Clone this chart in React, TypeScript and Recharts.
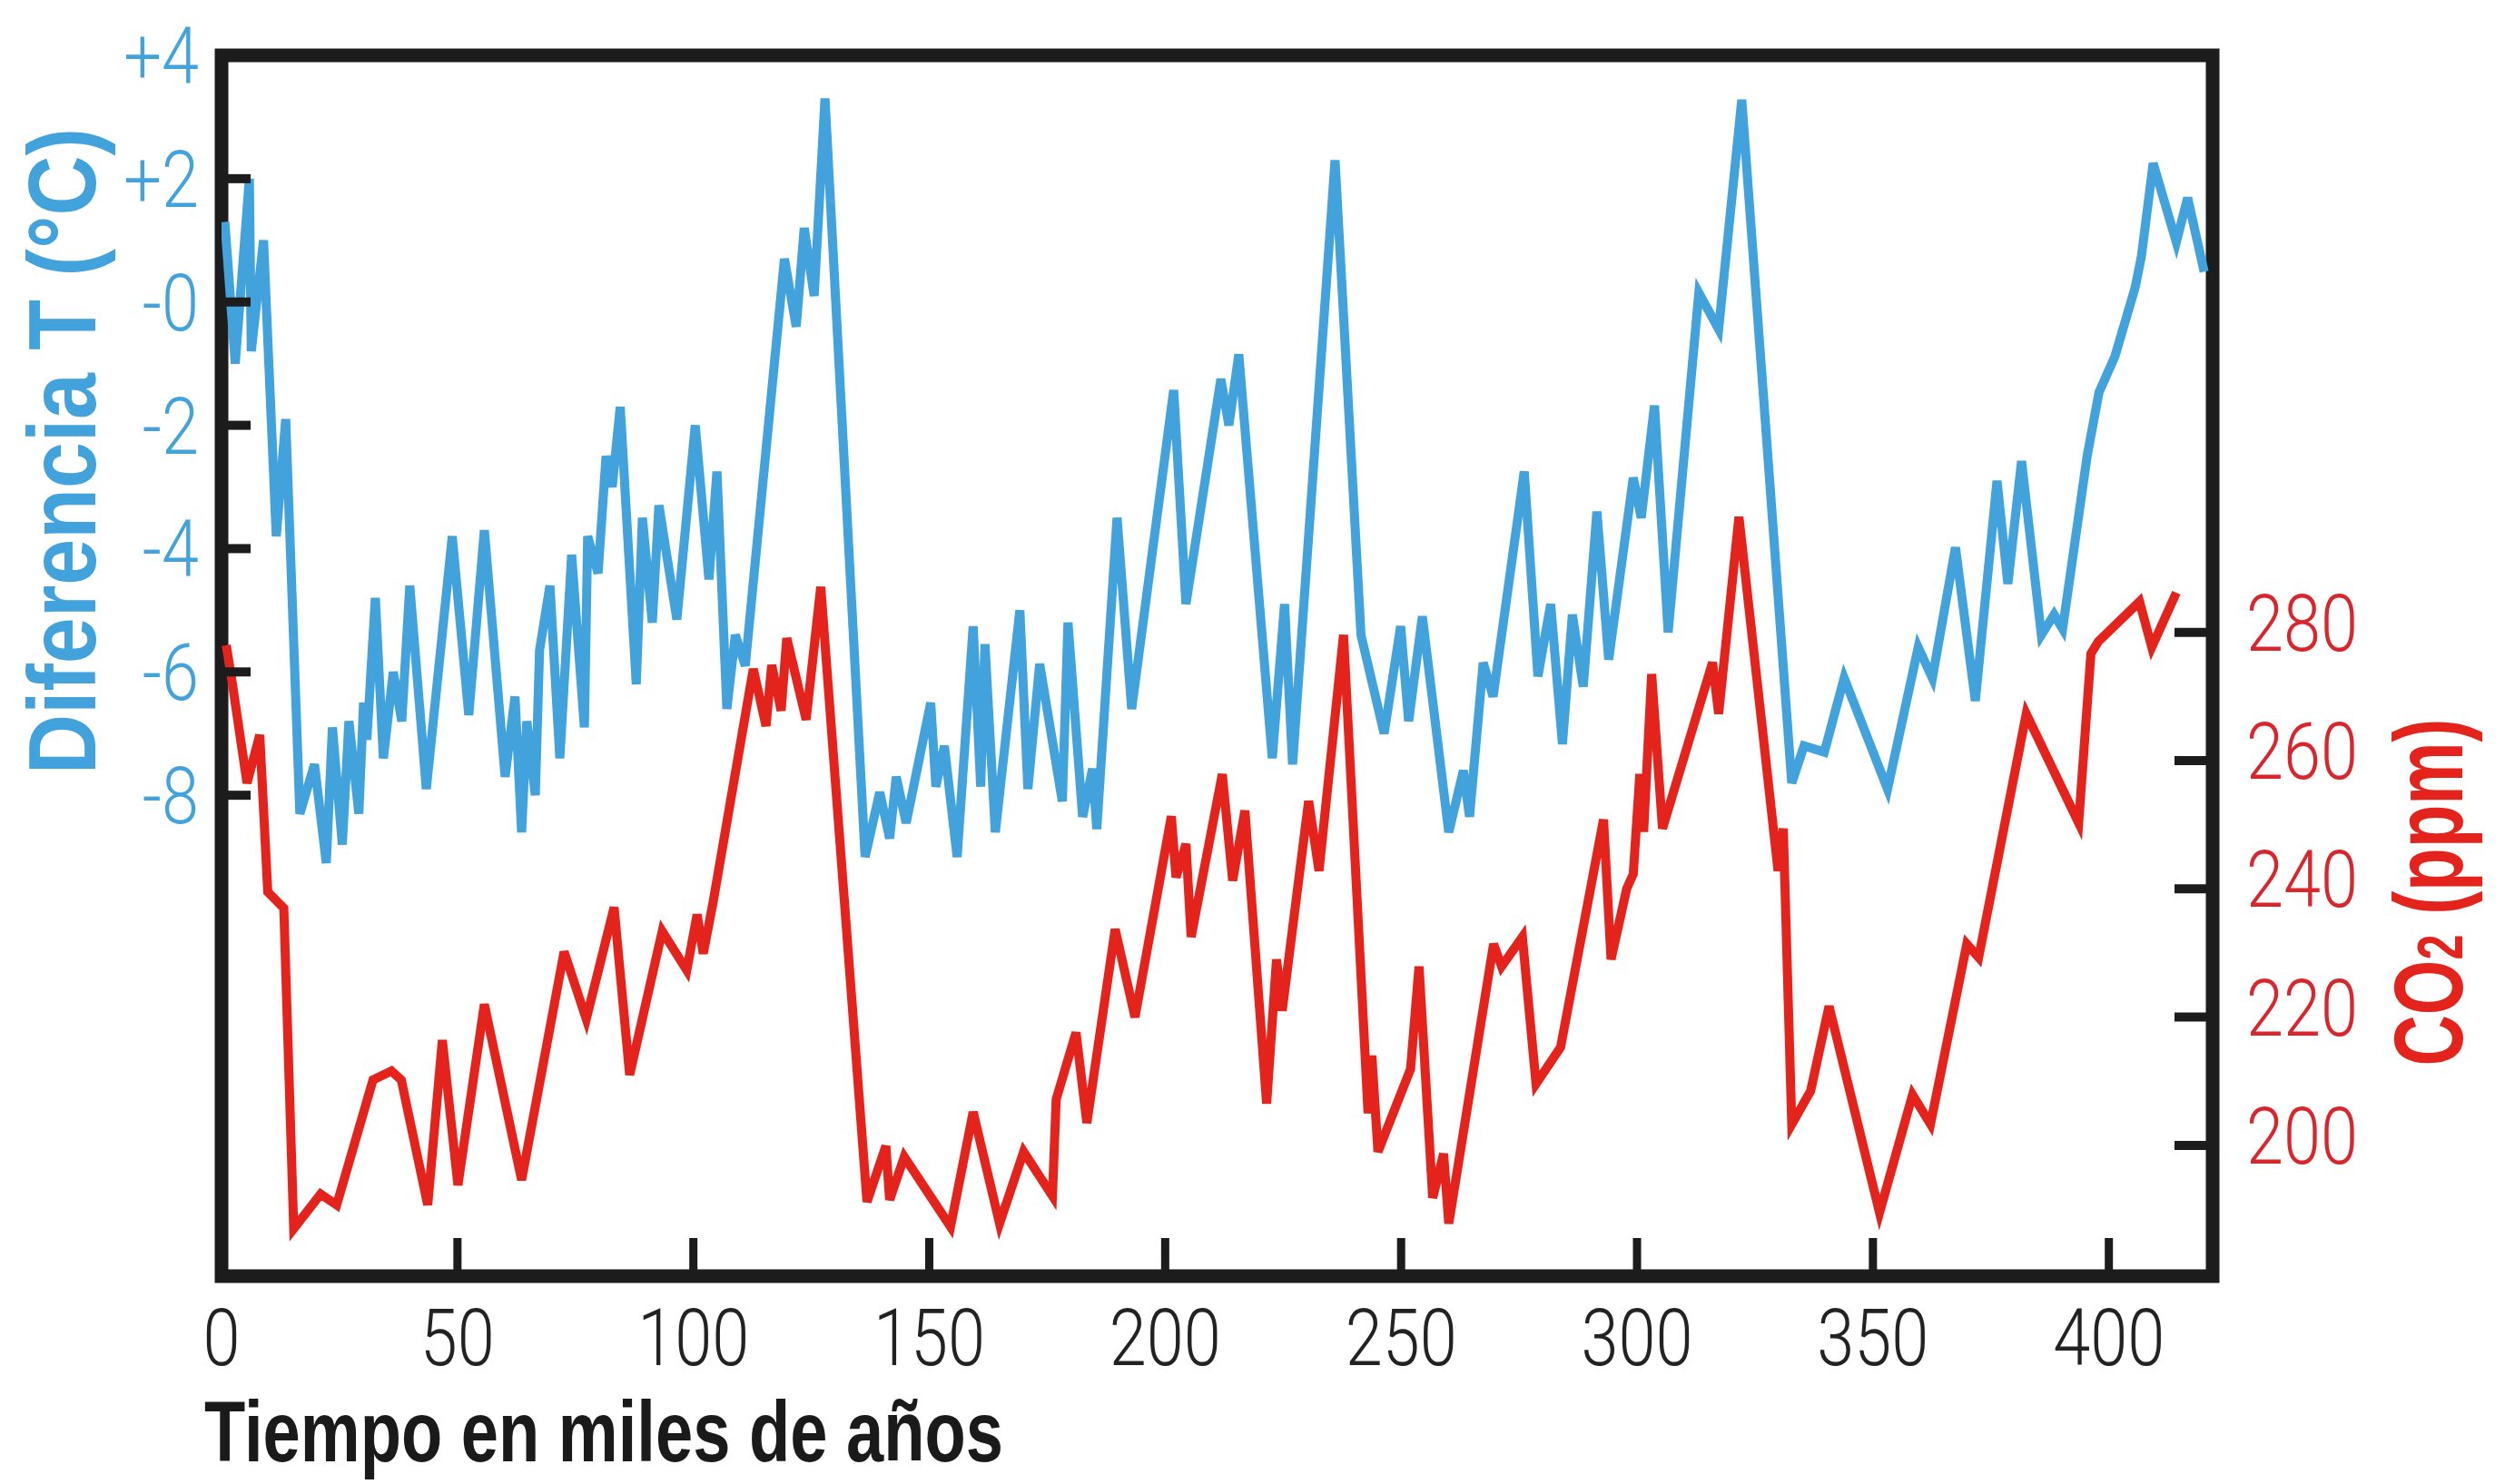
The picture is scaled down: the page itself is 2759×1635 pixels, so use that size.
import React from 'react';
import { LineChart, Line, XAxis, YAxis, ReferenceArea } from 'recharts';

// miles de años / temperatura (°C)
const tempYears = [
  0.7, 2.9, 5.9, 6.3, 8.9, 11.6, 13.6, 16.6, 19.7, 22.2, 23.5, 25.6, 27.0, 29.1, 30.1, 30.8,
  32.6, 34.3, 36.4, 38.2, 39.9, 43.4, 48.9, 52.4, 55.7, 60.1, 62.2, 63.6, 64.7, 66.5, 67.4,
  69.6, 71.7, 74.2, 76.9, 77.6, 79.8, 81.5, 82.8, 84.5, 87.9, 89.2, 91.3, 92.7, 96.5, 100.4,
  103.3, 105.0, 107.1, 108.9, 111.0, 119.3, 121.8, 123.5, 125.6, 127.9, 136.4, 139.5, 141.6,
  143.0, 145.1, 150.3, 151.4, 153.2, 155.9, 159.3, 160.9, 161.8, 164.0, 169.2, 170.9, 173.4,
  178.2, 179.4, 182.5, 184.6, 185.5, 189.8, 192.9, 201.8, 204.4, 211.8, 213.5, 215.6, 222.7,
  225.3, 227.0, 236.0, 241.5, 246.4, 249.9, 251.6, 254.5, 260.1, 263.2, 264.5, 267.4, 269.5,
  276.1, 279.0, 281.7, 284.2, 286.3, 288.6, 291.5, 294.0, 299.2, 300.9, 303.7, 306.6, 313.1,
  317.3, 322.2, 332.8, 335.4, 339.7, 343.9, 353.1, 359.6, 362.6, 367.5, 371.7, 376.3, 378.6,
  381.5, 385.7, 388.4, 390.2, 395.4, 397.9, 401.3, 405.6, 406.9, 409.4, 414.3, 416.7, 420.2,
];
const tempValues = [
  1.3, -1.0, 2.0, -0.8, 1.0, -3.8, -1.9, -8.3, -7.5, -9.1, -6.9, -8.8, -6.8, -8.3, -6.5, -7.1,
  -4.8, -7.4, -6.0, -6.8, -4.6, -7.9, -3.8, -6.7, -3.7, -7.7, -6.4, -8.6, -6.8, -8.0, -5.65,
  -4.6, -7.4, -4.1, -6.9, -3.8, -4.4, -2.5, -3.0, -1.7, -6.2, -3.5, -5.2, -3.3, -5.15, -2.0,
  -4.5, -2.75, -6.6, -5.4, -5.9, 0.7, -0.4, 1.2, 0.1, 3.3, -9.0, -7.95, -8.7,
  -7.7, -8.45, -6.5, -7.86, -7.2, -9.0, -5.26, -7.86, -5.55, -8.6, -5.0, -7.9, -5.87,
  -8.1, -5.2, -8.35, -7.57, -8.55, -3.5, -6.6, -1.43, -4.9, -1.25, -2.0, -0.85, -7.4,
  -4.9, -7.5, 2.3, -5.4, -7.0, -5.26, -6.8, -5.1, -8.6, -7.6, -8.35, -5.85, -6.4,
  -2.75, -6.07, -4.9, -7.17, -5.07, -6.24, -3.4, -5.8, -2.85, -3.5, -1.68, -5.36, 0.15,
  -0.44, 3.28, -7.8, -7.2, -7.3, -6.1, -7.9, -5.6, -6.1, -3.98, -6.47, -2.9, -4.57,
  -2.58, -5.4, -5.07, -5.3, -2.5, -1.47, -0.88, 0.24, 0.74, 2.25, 0.97, 1.69, 0.49,
];

// miles de años / CO2 (ppm)
const co2Years = [
  1.0, 2.3, 5.4, 8.1, 9.8, 13.2, 15.3, 21.0, 24.4, 32.1, 36.0, 38.1, 43.7, 46.8, 50.1, 55.7,
  63.6, 72.6, 77.3, 83.2, 86.5, 93.4, 98.6, 100.8, 102.1, 104.2, 112.7, 115.4, 116.6, 118.6,
  119.8, 123.9, 127.0, 136.8, 140.8, 141.6, 144.7, 154.5, 159.3, 164.9, 170.0, 176.1, 176.9,
  181.1, 183.4, 189.4, 193.6, 201.3, 202.3, 204.4, 205.5, 212.1, 214.3, 216.9, 221.5, 223.6,
  224.8, 230.4, 232.6, 237.8, 243.0, 243.8, 245.1, 252.0, 253.8, 256.7, 259.0, 260.1, 269.6,
  271.3, 275.7, 278.6, 283.8, 292.9, 294.5, 297.8, 299.2, 300.6, 301.4, 303.1, 305.4, 316.0,
  317.3, 321.6, 329.9, 331.0, 332.8, 336.8, 340.7, 351.4, 358.4, 362.2, 369.9, 372.4, 382.5,
  393.6, 396.2, 397.8, 406.5, 409.1, 414.3,
];
const co2Values = [
  278, 272, 256.5, 264, 239.5, 237, 187, 192.4, 190.7, 210.2, 211.6, 210.2, 190.7, 216.4, 193.8, 222,
  194.6, 230.2, 219.7, 237.1, 211, 233.4, 227.3, 236, 229.9, 238, 274.3, 265.4, 274.9, 267.8,
  279.1, 266.4, 287.1, 191.2, 199.9, 191.5, 198.2, 187.3, 205.2, 187.8, 199, 192.1, 207.2,
  217.6, 203.5, 233.7, 220, 251.3, 241.8, 247, 232.5, 257.9, 241.3, 252.2, 206.5, 229,
  221, 253.7, 242.8, 279.6, 205, 214, 199, 211.9, 227.9, 191.8, 198.7, 187.8, 231.4,
  227.9, 232.5, 209.6, 215.3, 250.8, 229, 240, 242.3, 257.9, 248.9, 273.5, 249.4, 275.3,
  267.3, 298, 242.8, 249.4, 203.3, 208.5, 221.7, 189.5, 207.9, 203.3, 231.4, 229.3, 267.3,
  250.3, 276.7, 278.6, 284.8, 277.7, 286.2,
];

const xTicks = [0, 50, 100, 150, 200, 250, 300, 350, 400];
const tempTicks = [4, 2, 0, -2, -4, -6, -8];
const tempTickLabels = ['+4', '+2', '-0', '-2', '-4', '-6', '-8'];
const co2Ticks = [200, 220, 240, 260, 280];

const tempData = tempYears.map((year, i) => ({ year, temp: tempValues[i] }));
const co2Data = co2Years.map((year, i) => ({ year, co2: co2Values[i] }));

const BLUE = '#42a2db';
const RED = '#e5231d';
const RED_TEXT = '#d8262c';
const FRAME = '#1c1c1c';
const TICK_FONT = 'Roboto, "Liberation Sans", Arial, sans-serif';
const TITLE_FONT = '"Liberation Sans", Arial, Helvetica, sans-serif';

function BottomTick({ x, y, payload }: any) {
  return (
    <g>
      <line x1={x} x2={x} y1={y} y2={y - 42} stroke={FRAME} strokeWidth={9} />
      <g transform={`translate(${x} ${y + 98}) scale(0.84 1)`}>
        <text x={0} y={0} textAnchor="middle" fill="#222" fontSize={88} fontWeight={300} fontFamily={TICK_FONT}>
          {payload.value}
        </text>
      </g>
    </g>
  );
}

function LeftTick({ x, y, payload }: any) {
  const idx = tempTicks.indexOf(payload.value);
  return (
    <g>
      <line x1={x} x2={x + 32} y1={y} y2={y} stroke={FRAME} strokeWidth={10} />
      <g transform={`translate(${x - 25} ${y + 31}) scale(0.84 1)`}>
        <text x={0} y={0} textAnchor="end" fill={BLUE} fontSize={88} fontWeight={300} fontFamily={TICK_FONT}>
          {tempTickLabels[idx]}
        </text>
      </g>
    </g>
  );
}

function RightTick({ x, y, payload }: any) {
  return (
    <g>
      <line x1={x} x2={x - 42} y1={y} y2={y} stroke={FRAME} strokeWidth={10} />
      <g transform={`translate(${x + 37} ${y + 20}) scale(0.84 1)`}>
        <text x={0} y={0} textAnchor="start" fill={RED_TEXT} fontSize={88} fontWeight={300} fontFamily={TICK_FONT}>
          {payload.value}
        </text>
      </g>
    </g>
  );
}

export default function App() {
  return (
    <div style={{ position: 'relative', width: 2759, height: 1635, background: '#fff' }}>
      <style>{'html,body{margin:0;padding:0;overflow:hidden;background:#fff}'}</style>
      <LineChart width={2759} height={1635} margin={{ top: 61, right: 0, bottom: 0, left: 0 }}>
        <XAxis
          dataKey="year"
          type="number"
          domain={[0, 422]}
          ticks={xTicks}
          interval={0}
          height={229}
          allowDataOverflow
          axisLine={false}
          tickLine={false}
          tickSize={0}
          tickMargin={0}
          tick={<BottomTick />}
        />
        <YAxis
          yAxisId="temp"
          orientation="left"
          width={244}
          domain={[-15.8, 4]}
          ticks={tempTicks}
          interval={0}
          allowDataOverflow
          axisLine={false}
          tickLine={false}
          tickSize={0}
          tickMargin={0}
          tick={<LeftTick />}
        />
        <YAxis
          yAxisId="co2"
          orientation="right"
          width={322}
          domain={[179.6, 370]}
          ticks={co2Ticks}
          interval={0}
          allowDataOverflow
          axisLine={false}
          tickLine={false}
          tickSize={0}
          tickMargin={0}
          tick={<RightTick />}
        />
        <Line
          yAxisId="co2"
          data={co2Data}
          dataKey="co2"
          type="linear"
          stroke={RED}
          strokeWidth={10}
          dot={false}
          activeDot={false}
          isAnimationActive={false}
        />
        <Line
          yAxisId="temp"
          data={tempData}
          dataKey="temp"
          type="linear"
          stroke={BLUE}
          strokeWidth={10}
          dot={false}
          activeDot={false}
          isAnimationActive={false}
        />
        <ReferenceArea
          yAxisId="temp"
          x1={0}
          x2={422}
          y1={-15.8}
          y2={4}
          fill="none"
          fillOpacity={0}
          stroke={FRAME}
          strokeWidth={15}
          ifOverflow="visible"
        />
      </LineChart>
      <svg
        width={2759}
        height={1635}
        style={{ position: 'absolute', left: 0, top: 0, pointerEvents: 'none' }}
      >
        <text
          transform="translate(105 497) rotate(-90)"
          textAnchor="middle"
          fill={BLUE}
          fontSize={106}
          fontWeight="bold"
          fontFamily={TITLE_FONT}
          textLength={712}
          lengthAdjust="spacingAndGlyphs"
        >
          Diferencia T (°C)
        </text>
        <text
          transform="translate(2712 983) rotate(-90)"
          textAnchor="middle"
          fill={RED}
          fontSize={108}
          fontWeight="bold"
          fontFamily={TITLE_FONT}
          textLength={383}
          lengthAdjust="spacingAndGlyphs"
        >
          CO<tspan fontSize={70}>2</tspan> (ppm)
        </text>
        <text
          x={225}
          y={1610}
          fill="#1a1a1a"
          fontSize={94}
          fontWeight="bold"
          fontFamily={TITLE_FONT}
          textLength={880}
          lengthAdjust="spacingAndGlyphs"
        >
          Tiempo en miles de años
        </text>
      </svg>
    </div>
  );
}
